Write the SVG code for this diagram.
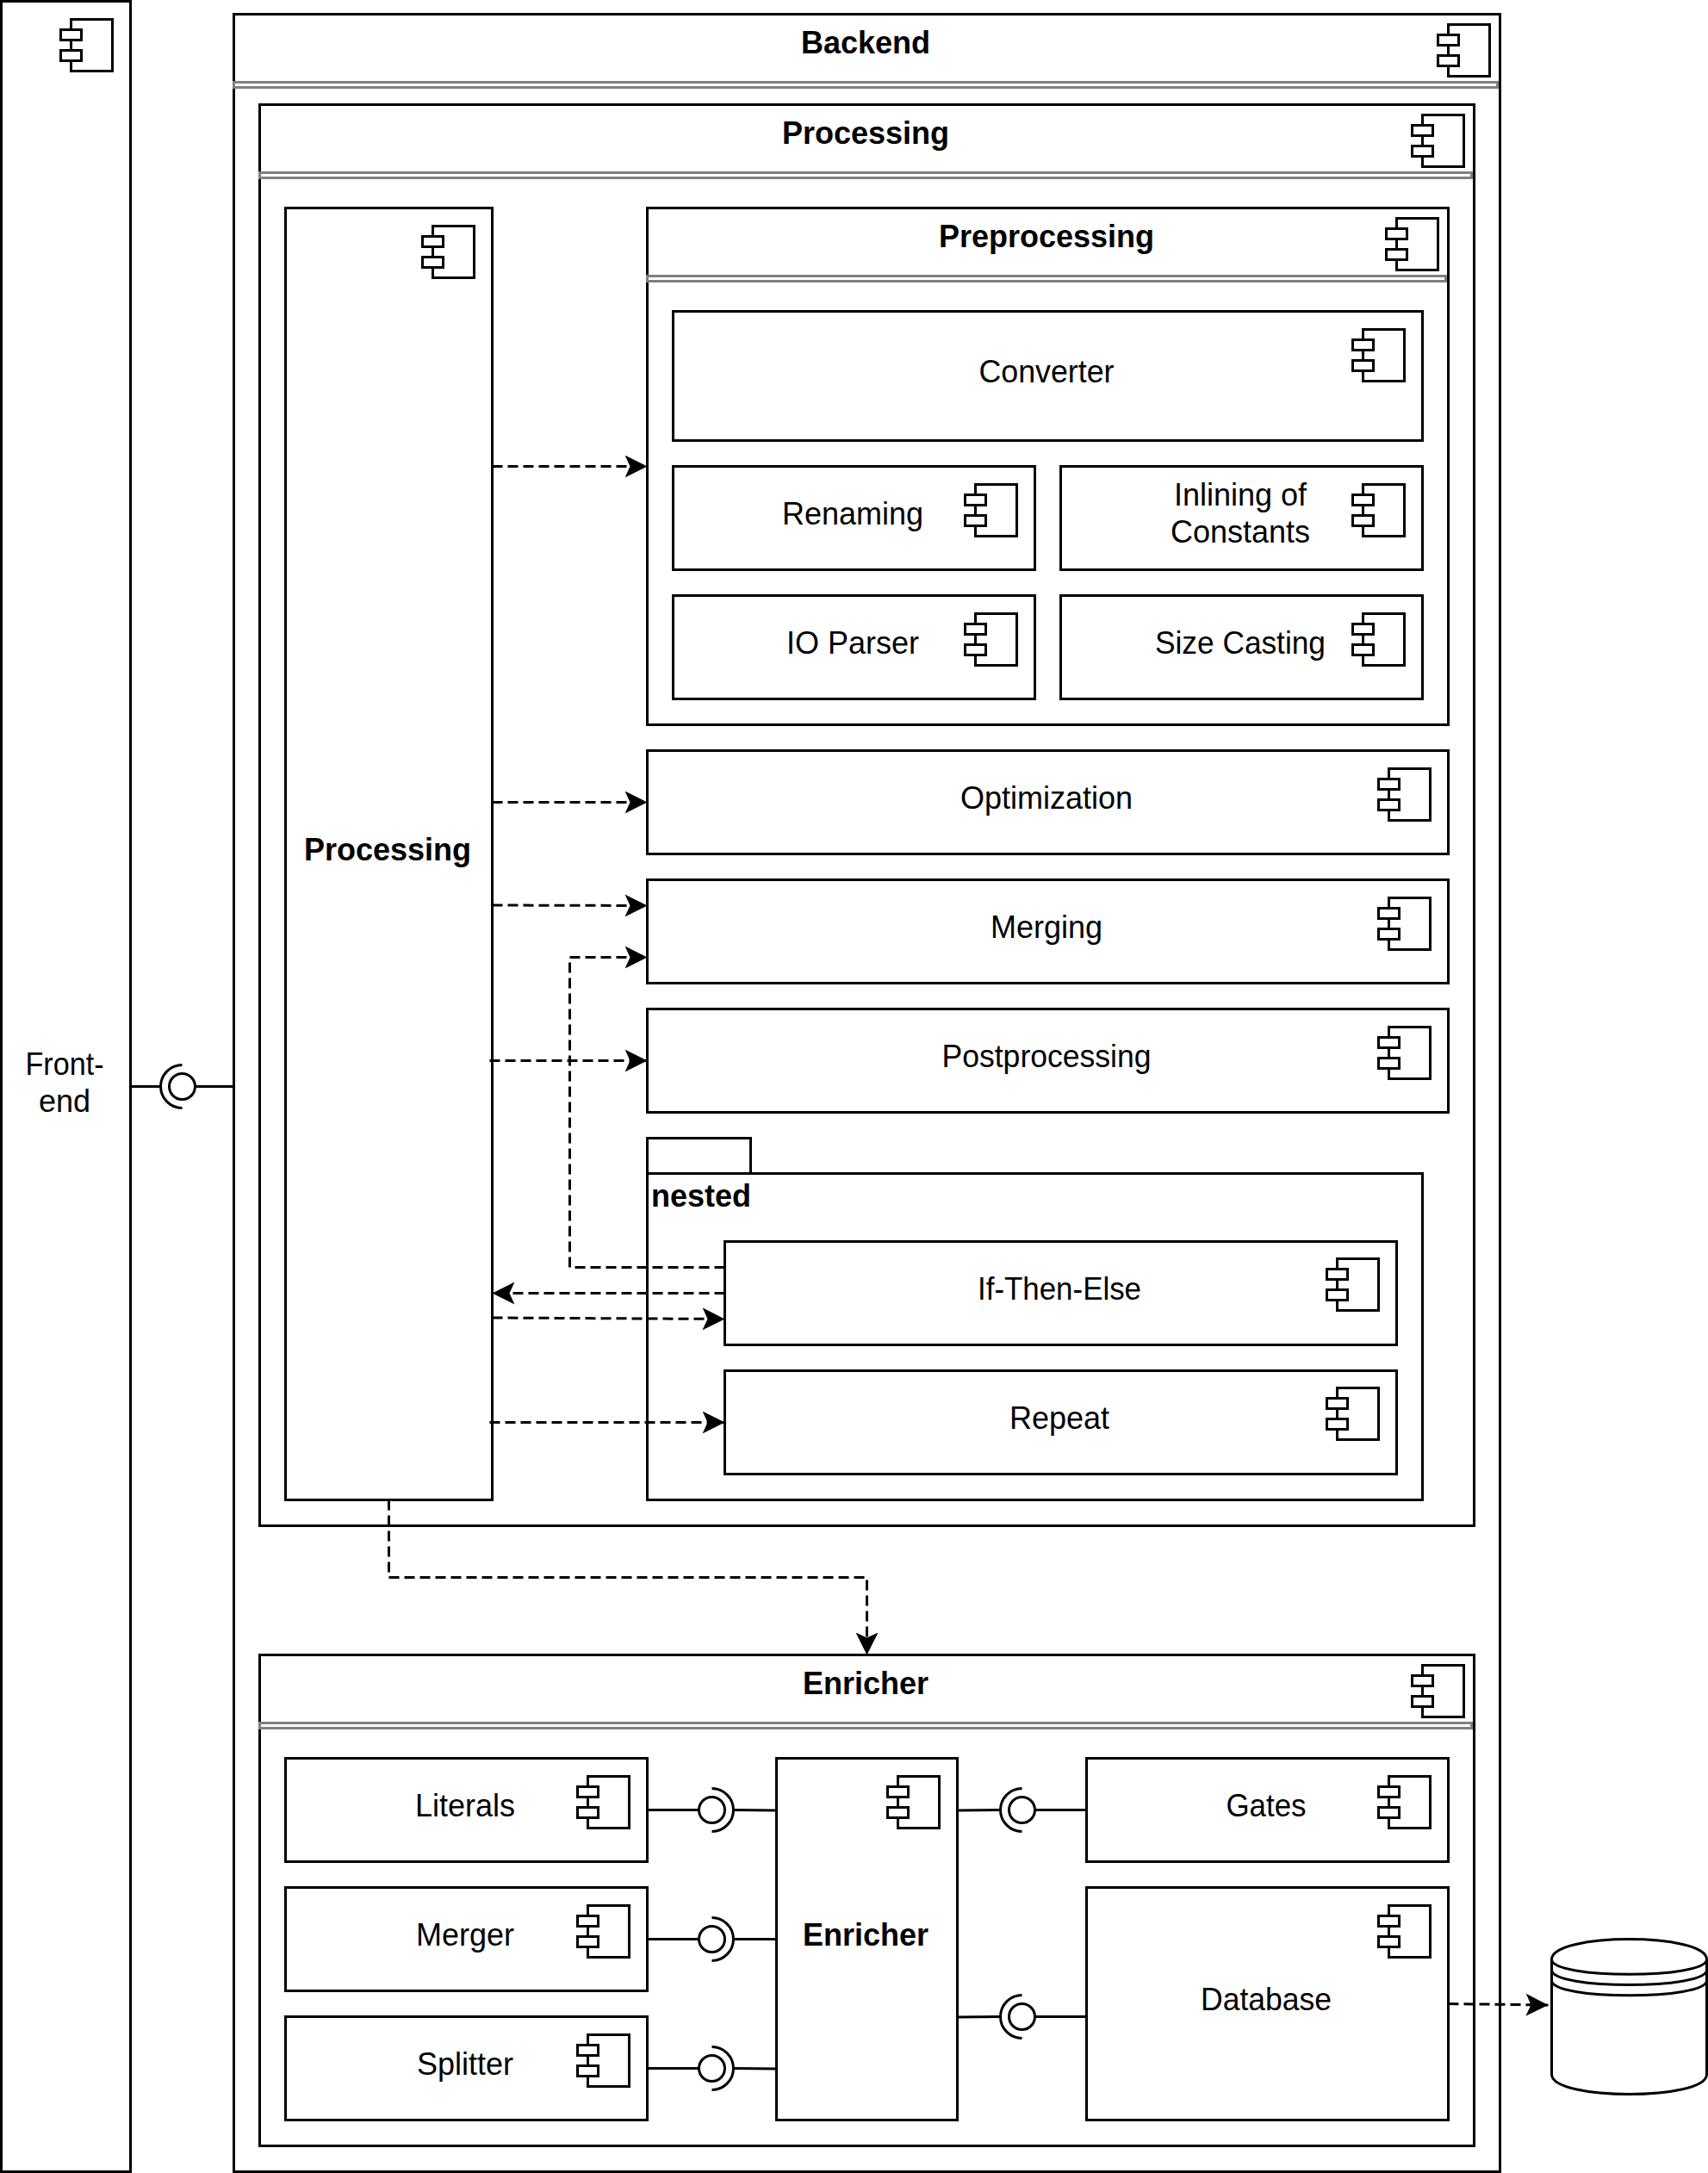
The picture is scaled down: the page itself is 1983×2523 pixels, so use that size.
<svg xmlns="http://www.w3.org/2000/svg" width="1983" height="2523" viewBox="0 0 1983 2523">
<defs>
<style>
.b{fill:#fff;stroke:#000;stroke-width:3}
.d{fill:#fff;stroke:#808080;stroke-width:3}
.l{fill:none;stroke:#000;stroke-width:3}
.c{fill:none;stroke:#000;stroke-width:3;stroke-dasharray:12 6;marker-end:url(#ah)}
.t{font-family:"Liberation Sans",Arial,Helvetica,sans-serif;font-size:36px;fill:#000;text-anchor:middle}
.s{font-weight:bold}
</style>
<marker id="ah" markerUnits="userSpaceOnUse" viewBox="0 0 26 26" refX="26" refY="13" markerWidth="26" markerHeight="26" orient="auto"><path d="M26 13L0 0L6 13L0 26Z" fill="#000"/></marker>
<g id="ic"><path class="b" d="M12 0H60V60H12Z"/><rect class="b" x="0" y="12" width="24" height="12"/><rect class="b" x="0" y="36" width="24" height="12"/></g>
</defs>
<rect width="1983" height="2523" fill="#fff"/>
<g id="frontend"><rect class="b" x="1.5" y="1.5" width="150" height="2520"/><use href="#ic" x="70.5" y="22.5"/><text class="t" x="75" y="1248" textLength="91" lengthAdjust="spacingAndGlyphs">Front-</text><text class="t" x="75" y="1291">end</text></g>
<g id="backend"><rect class="b" x="271.5" y="16.5" width="1470" height="2505"/><rect class="d" x="271.5" y="95.5" width="1467" height="6"/><use href="#ic" x="1669.5" y="28.5"/><text class="t s" x="1005" y="62">Backend</text></g>
<g id="processing-group"><rect class="b" x="301.5" y="121.5" width="1410" height="1650"/><rect class="d" x="301.5" y="200.5" width="1407" height="6"/><use href="#ic" x="1639.5" y="133.5"/><text class="t s" x="1005" y="167">Processing</text></g>
<g id="processing"><rect class="b" x="331.5" y="241.5" width="240" height="1500"/><use href="#ic" x="490.5" y="262.5"/><text class="t s" x="450" y="999">Processing</text></g>
<g id="preprocessing"><rect class="b" x="751.5" y="241.5" width="930" height="600"/><rect class="d" x="751.5" y="320.5" width="927" height="6"/><use href="#ic" x="1609.5" y="253.5"/><text class="t s" x="1215" y="287">Preprocessing</text></g>
<g id="converter"><rect class="b" x="781.5" y="361.5" width="870" height="150"/><use href="#ic" x="1570.5" y="382.5"/><text class="t" x="1215" y="444" textLength="157" lengthAdjust="spacingAndGlyphs">Converter</text></g>
<g id="renaming"><rect class="b" x="781.5" y="541.5" width="420" height="120"/><use href="#ic" x="1120.5" y="562.5"/><text class="t" x="990" y="609">Renaming</text></g>
<g id="inlining"><rect class="b" x="1231.5" y="541.5" width="420" height="120"/><use href="#ic" x="1570.5" y="562.5"/><text class="t" x="1440" y="587">Inlining of</text><text class="t" x="1440" y="630">Constants</text></g>
<g id="io-parser"><rect class="b" x="781.5" y="691.5" width="420" height="120"/><use href="#ic" x="1120.5" y="712.5"/><text class="t" x="990" y="759">IO Parser</text></g>
<g id="size-casting"><rect class="b" x="1231.5" y="691.5" width="420" height="120"/><use href="#ic" x="1570.5" y="712.5"/><text class="t" x="1440" y="759" textLength="198" lengthAdjust="spacingAndGlyphs">Size Casting</text></g>
<g id="optimization"><rect class="b" x="751.5" y="871.5" width="930" height="120"/><use href="#ic" x="1600.5" y="892.5"/><text class="t" x="1215" y="939">Optimization</text></g>
<g id="merging"><rect class="b" x="751.5" y="1021.5" width="930" height="120"/><use href="#ic" x="1600.5" y="1042.5"/><text class="t" x="1215" y="1089">Merging</text></g>
<g id="postprocessing"><rect class="b" x="751.5" y="1171.5" width="930" height="120"/><use href="#ic" x="1600.5" y="1192.5"/><text class="t" x="1215" y="1239" textLength="243" lengthAdjust="spacingAndGlyphs">Postprocessing</text></g>
<g id="nested"><rect class="b" x="751.5" y="1321.5" width="120" height="41"/><rect class="b" x="751.5" y="1362.5" width="900" height="379"/><text class="t s" x="814" y="1401">nested</text></g>
<g id="if-then-else"><rect class="b" x="841.5" y="1441.5" width="780" height="120"/><use href="#ic" x="1540.5" y="1461.5"/><text class="t" x="1230" y="1509" textLength="190" lengthAdjust="spacingAndGlyphs">If-Then-Else</text></g>
<g id="repeat"><rect class="b" x="841.5" y="1591.5" width="780" height="120"/><use href="#ic" x="1540.5" y="1611.5"/><text class="t" x="1230" y="1659">Repeat</text></g>
<g id="enricher-group"><rect class="b" x="301.5" y="1921.5" width="1410" height="570"/><rect class="d" x="301.5" y="2000.5" width="1407" height="6"/><use href="#ic" x="1639.5" y="1933.5"/><text class="t s" x="1005" y="1967">Enricher</text></g>
<g id="literals"><rect class="b" x="331.5" y="2041.5" width="420" height="120"/><use href="#ic" x="670.5" y="2062.5"/><text class="t" x="540" y="2109">Literals</text></g>
<g id="merger"><rect class="b" x="331.5" y="2191.5" width="420" height="120"/><use href="#ic" x="670.5" y="2212.5"/><text class="t" x="540" y="2259">Merger</text></g>
<g id="splitter"><rect class="b" x="331.5" y="2341.5" width="420" height="120"/><use href="#ic" x="670.5" y="2362.5"/><text class="t" x="540" y="2409">Splitter</text></g>
<g id="enricher"><rect class="b" x="901.5" y="2041.5" width="210" height="420"/><use href="#ic" x="1030.5" y="2062.5"/><text class="t s" x="1005" y="2259">Enricher</text></g>
<g id="gates"><rect class="b" x="1261.5" y="2041.5" width="420" height="120"/><use href="#ic" x="1600.5" y="2062.5"/><text class="t" x="1470" y="2109" textLength="93" lengthAdjust="spacingAndGlyphs">Gates</text></g>
<g id="database"><rect class="b" x="1261.5" y="2191.5" width="420" height="270"/><use href="#ic" x="1600.5" y="2212.5"/><text class="t" x="1470" y="2334" textLength="152" lengthAdjust="spacingAndGlyphs">Database</text></g>
<g id="datastore"><path class="b" d="M1801.5 2275C1801.5 2243.8 1981.5 2243.8 1981.5 2275V2408.5C1981.5 2439.2 1801.5 2439.2 1801.5 2408.5Z"/><path class="l" d="M1801.5 2275C1801.5 2298 1981.5 2298 1981.5 2275M1801.5 2287.3C1801.5 2310.3 1981.5 2310.3 1981.5 2287.3M1801.5 2299.6C1801.5 2322.6 1981.5 2322.6 1981.5 2299.6"/></g>
<g id="connectors">
<path class="c" d="M571.5 541.5H751.5"/>
<path class="c" d="M571.5 931.5H751.5"/>
<path class="c" d="M571.5 1051L751.5 1051.5"/>
<path class="c" d="M568.5 1231.5H751.5"/>
<path class="c" d="M841.5 1471.5H661.5V1111.5H751.5"/>
<path class="c" d="M841.5 1501.5H571.5"/>
<path class="c" d="M571.5 1530L841.5 1531.5"/>
<path class="c" d="M568.5 1651.5H841.5"/>
<path class="c" d="M451.5 1741.5V1831.5H1006.5V1921.5"/>
<path class="c" d="M1681.5 2326.5L1797.5 2328"/>
<g id="socket-frontend"><path class="l" d="M151.5 1261.5H186.5M226.5 1261.5H271.5"/><circle class="l" cx="211.5" cy="1261.5" r="15"/><path class="l" d="M211.5 1236.5A25 25 0 0 0 211.5 1286.5"/></g>
<g id="socket-literals"><path class="l" d="M751.5 2101.5H811.5M851.5 2101.5L901.5 2102"/><circle class="l" cx="826.5" cy="2101.5" r="15"/><path class="l" d="M826.5 2076.5A25 25 0 0 1 826.5 2126.5"/></g>
<g id="socket-merger"><path class="l" d="M751.5 2251.5H811.5M851.5 2251.5H901.5"/><circle class="l" cx="826.5" cy="2251.5" r="15"/><path class="l" d="M826.5 2226.5A25 25 0 0 1 826.5 2276.5"/></g>
<g id="socket-splitter"><path class="l" d="M751.5 2401.5H811.5M851.5 2401.5L901.5 2402"/><circle class="l" cx="826.5" cy="2401.5" r="15"/><path class="l" d="M826.5 2376.5A25 25 0 0 1 826.5 2426.5"/></g>
<g id="socket-gates"><path class="l" d="M1111.5 2102L1161.5 2101.5M1201.5 2101.5H1261.5"/><circle class="l" cx="1186.5" cy="2101.5" r="15"/><path class="l" d="M1186.5 2076.5A25 25 0 0 0 1186.5 2126.5"/></g>
<g id="socket-database"><path class="l" d="M1111.5 2342L1161.5 2341.5M1201.5 2341.5H1261.5"/><circle class="l" cx="1186.5" cy="2341.5" r="15"/><path class="l" d="M1186.5 2316.5A25 25 0 0 0 1186.5 2366.5"/></g>
</g>
</svg>
